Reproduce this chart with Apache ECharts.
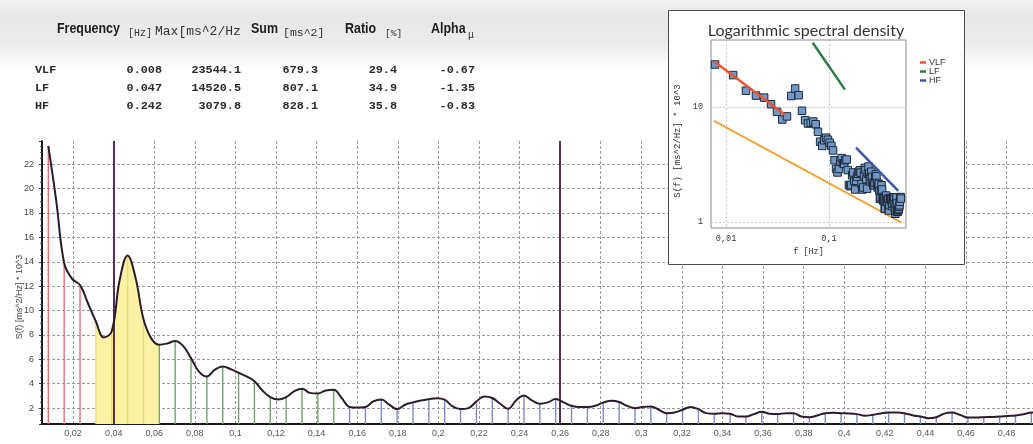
<!DOCTYPE html>
<html>
<head>
<meta charset="utf-8">
<script src="https://cdn.jsdelivr.net/npm/echarts@6/dist/echarts.min.js"></script>
<style>
  html, body { margin: 0; padding: 0; }
  body { width: 1033px; height: 444px; overflow: hidden;
         background: linear-gradient(to bottom, #f3f3f3 0px, #e7e7e7 14px, #ebebeb 42px, #ffffff 70px); }
  #chart { width: 1033px; height: 444px; }
</style>
</head>
<body>
<div id="chart"></div>
<script>
// ---------- DATA ----------
// spectral density S(f) [ms^2/Hz * 10^3], sampled every 1/256 Hz starting at f = 2/256
const psdStep = 1 / 256;
const psdStartIndex = 2;
const psdValues = [
  23.5, 19.0, 13.9, 12.6, 12.1, 10.6, 9.1, 7.8, 8.3, 12.5,
  14.52, 12.7, 9.3, 7.7, 7.2, 7.3, 7.5, 7.1, 6.1, 5.0,
  4.6, 5.15, 5.42, 5.2, 4.9, 4.6, 4.2, 3.45, 2.9, 2.7,
  2.9, 3.37, 3.6, 3.25, 3.2, 3.45, 3.5, 2.83, 2.1, 2.05,
  2.1, 2.55, 2.7, 2.28, 1.92, 2.28, 2.47, 2.63, 2.74, 2.82,
  2.69, 2.14, 1.92, 2.0, 2.55, 2.96, 2.83, 2.36, 1.95, 2.63,
  3.04, 2.63, 2.36, 2.47, 2.74, 2.47, 2.19, 2.09, 2.09, 2.19,
  2.45, 2.6, 2.5, 2.19, 2.0, 2.09, 2.14, 1.87, 1.59, 1.64,
  1.87, 2.09, 1.92, 1.59, 1.54, 1.59, 1.54, 1.31, 1.31, 1.51,
  1.7, 1.54, 1.51, 1.59, 1.59, 1.31, 1.26, 1.4, 1.59, 1.62,
  1.59, 1.57, 1.51, 1.38, 1.45, 1.57, 1.64, 1.64, 1.59, 1.42,
  1.31, 1.18, 1.26, 1.55, 1.64, 1.45, 1.23, 1.23, 1.26, 1.28,
  1.31, 1.36, 1.40, 1.5, 1.64, 1.65, 1.6
];
// spectral lines every 1/128 Hz, grouped by band (index k, f = k/128)
const lineStep = 1 / 128;
const vlfLines = [1, 3];
const peakLines = [4, 7];
const lfLines = [8, 19];
const hfLines = [20, 64];
const markerLines = [5, 33];          // band cursors (k)
const peakArea = [4, 8];              // highlighted peak area (k)

// table
const tableRows = ['VLF', 'LF', 'HF'];
const colFrequency = ['0.008', '0.047', '0.242'];
const colMax = ['23544.1', '14520.5', '3079.8'];
const colSum = ['679.3', '807.1', '828.1'];
const colRatio = ['29.4', '34.9', '35.8'];
const colAlpha = ['-0.67', '-1.35', '-0.83'];

// inset fit lines (log-log)
const fitVLF = [[0.00769, 25.0], [0.0374, 8.57]];
const fitLF = [[0.0695, 36.4], [0.143, 14.2]];
const fitHF = [[0.183, 4.44], [0.471, 1.87]];
const fitRef = [[0.00764, 7.6], [0.508, 0.99]];

// ---------- BUILD ----------
const curve = psdValues.map((v, i) => [(i + psdStartIndex) * psdStep, v]);
function valueAtLine(k) {
  const i = Math.round(k * lineStep / psdStep) - psdStartIndex;
  return psdValues[i];
}
const bandDefs = [
  { r: vlfLines, color: '#e27272' },
  { r: peakLines, color: '#e9dc78' },
  { r: lfLines, color: '#6ea66b' },
  { r: hfLines, color: '#7e89cc' }
];
const drops = [];
bandDefs.forEach(b => {
  for (let k = b.r[0]; k <= b.r[1]; k++) {
    const v = valueAtLine(k);
    if (v === undefined) continue;
    drops.push({ value: [k * lineStep, v], itemStyle: { color: b.color } });
  }
});
const areaData = curve.filter(p => p[0] >= peakArea[0] * lineStep - 1e-9 && p[0] <= peakArea[1] * lineStep + 1e-9);

const comma = v => String(v).replace('.', ',');
const mono = '"Liberation Mono", "Courier New", monospace';
const sans = '"Liberation Sans", Arial, sans-serif';

function txt(text, x, y, o) {
  o = o || {};
  return {
    type: 'text', x: x, y: y, z: 100,
    scaleX: o.scaleX || 1,
    rotation: o.rotation || 0,
    style: {
      text: text, fill: o.color || '#222',
      fontSize: o.size || 12, fontFamily: o.family || mono,
      fontWeight: o.weight || 'normal',
      align: o.align || 'left', verticalAlign: o.valign || 'middle'
    }
  };
}

const graphics = [
  { type: 'rect', z: 50, shape: { x: 668.5, y: 10.5, width: 296, height: 254 },
    style: { fill: '#ffffff', stroke: '#4a4a4a', lineWidth: 1 } },
  txt('Logarithmic spectral density', 806, 31, { family: 'Lato, "Open Sans", sans-serif', size: 16, color: '#333', align: 'center' }),
  // header
  txt('Frequency', 57, 29, { family: sans, size: 15, weight: 'bold', scaleX: 0.83, color: '#1e1e1e' }),
  txt('[Hz]', 128, 33, { size: 10, color: '#333' }),
  txt('Max[ms^2/Hz', 155, 32, { size: 13, color: '#333' }),
  txt('Sum', 251, 29, { family: sans, size: 15, weight: 'bold', scaleX: 0.83, color: '#1e1e1e' }),
  txt('[ms^2]', 283, 33, { size: 11.5, color: '#333' }),
  txt('Ratio', 345, 29, { family: sans, size: 15, weight: 'bold', scaleX: 0.83, color: '#1e1e1e' }),
  txt('[%]', 385, 33, { size: 9.5, color: '#333' }),
  txt('Alpha', 431, 29, { family: sans, size: 15, weight: 'bold', scaleX: 0.83, color: '#1e1e1e' }),
  txt('μ', 468, 35, { size: 10, color: '#333' }),
  // main y-axis title
  txt('S(f) [ms^2/Hz] * 10^3', 20, 297, { family: sans, size: 9, color: '#444', align: 'center', rotation: Math.PI / 2 }),
  // inset y-axis title
  txt('S(f) [ms^2/Hz] * 10^3', 678, 141, { family: mono, size: 9, color: '#333', align: 'center', rotation: Math.PI / 2 })
];
const rowY = [70, 88, 106];
const cols = [
  { vals: colFrequency, x: 162 },
  { vals: colMax, x: 241 },
  { vals: colSum, x: 318 },
  { vals: colRatio, x: 397 },
  { vals: colAlpha, x: 475 }
];
tableRows.forEach((name, r) => {
  graphics.push(txt(name, 35, rowY[r], { size: 11.8, weight: 'bold', color: '#2a2a2a' }));
  cols.forEach(c => graphics.push(txt(c.vals[r], c.x, rowY[r], { size: 11.8, weight: 'bold', color: '#2a2a2a', align: 'right' })));
});

const dashed = { color: '#9a9a9a', width: 1, type: [3, 2] };

const option = {
  animation: false,
  backgroundColor: 'transparent',
  grid: [
    { left: 42, right: 0, top: 141, bottom: 20 },
    { left: 711, top: 40, width: 195, height: 188, show: true, borderColor: '#8a8a8a', borderWidth: 1, backgroundColor: '#fff', z: 60 }
  ],
  legend: {
    data: ['VLF', 'LF', 'HF'], orient: 'vertical', left: 915, top: 53, z: 70,
    icon: 'rect', itemWidth: 6, itemHeight: 2.5, itemGap: 0,
    textStyle: { fontSize: 9, lineHeight: 8, color: '#333', fontFamily: sans, padding: [0, 0, 0, -2] }
  },
  xAxis: [
    { type: 'value', gridIndex: 0, min: 0.0047, max: 0.493, splitNumber: 25,
      axisLine: { lineStyle: { color: '#1a1a1a', width: 2 } },
      axisTick: { show: false },
      axisLabel: { color: '#555', fontSize: 9, margin: 5, fontFamily: sans, formatter: comma, showMinLabel: false, showMaxLabel: false },
      splitLine: { show: true, lineStyle: dashed, showMinLine: false, showMaxLine: false } },
    { type: 'log', gridIndex: 1, min: 0.00714, max: 0.56, z: 61,
      axisLine: { show: false }, axisTick: { show: false },
      axisLabel: { color: '#333', fontSize: 8.5, fontFamily: mono, margin: 6, formatter: comma, showMinLabel: false, showMaxLabel: false },
      splitLine: { show: true, lineStyle: { color: '#c8c8c8', type: [2, 2] }, showMinLine: false, showMaxLine: false },
      name: 'f [Hz]', nameLocation: 'middle', nameGap: 19,
      nameTextStyle: { fontSize: 8.5, fontFamily: mono, color: '#333' } }
  ],
  yAxis: [
    { type: 'value', gridIndex: 0, min: 0.7, max: 23.9, splitNumber: 12,
      axisLine: { show: true, lineStyle: { color: '#1a1a1a', width: 2 } },
      axisTick: { show: true, length: 3, lineStyle: { color: '#333' } },
      minorTick: { show: true, splitNumber: 4, length: 2, lineStyle: { color: '#555' } },
      axisLabel: { color: '#444', fontSize: 9, margin: 8, fontFamily: sans, showMinLabel: false, showMaxLabel: false },
      splitLine: { show: true, lineStyle: dashed, showMinLine: false, showMaxLine: false } },
    { type: 'log', gridIndex: 1, min: 0.887, max: 38.4, z: 61,
      axisLine: { show: false }, axisTick: { show: false },
      axisLabel: { color: '#333', fontSize: 8.5, fontFamily: mono, margin: 8, showMinLabel: false, showMaxLabel: false },
      splitLine: { show: true, lineStyle: { color: '#c8c8c8', type: [2, 2] }, showMinLine: false, showMaxLine: false } }
  ],
  graphic: graphics,
  series: [
    { name: 'peak area', type: 'line', xAxisIndex: 0, yAxisIndex: 0, data: areaData, smooth: 0.4,
      showSymbol: false, symbol: 'none', lineStyle: { width: 0 }, areaStyle: { color: '#fbf2a4', opacity: 1 }, z: 2, silent: true },
    { name: 'lines', type: 'bar', xAxisIndex: 0, yAxisIndex: 0, data: drops, barWidth: 1.4, z: 3, silent: true },
    { name: 'S(f)', type: 'line', xAxisIndex: 0, yAxisIndex: 0, data: curve, smooth: 0.4,
      showSymbol: false, symbol: 'none', lineStyle: { color: '#2b1c2c', width: 2 }, z: 5, silent: true,
      markLine: { symbol: 'none', silent: true, label: { show: false },
        lineStyle: { color: '#5a2c5a', width: 2, type: 'solid' },
        data: markerLines.map(k => ({ xAxis: k * lineStep })) } },
    { name: 'ref', type: 'line', xAxisIndex: 1, yAxisIndex: 1, data: fitRef, symbol: 'none',
      lineStyle: { color: '#f2a33a', width: 2 }, z: 61, silent: true },
    { name: 'PSD', type: 'scatter', xAxisIndex: 1, yAxisIndex: 1, data: curve, symbol: 'rect', symbolSize: 7.5,
      itemStyle: { color: '#7098c9', borderColor: '#1d2835', borderWidth: 1, opacity: 1 }, z: 62, silent: true },
    { name: 'VLF', type: 'line', xAxisIndex: 1, yAxisIndex: 1, data: fitVLF, symbol: 'none',
      itemStyle: { color: '#e8552f' }, lineStyle: { color: '#e8552f', width: 2.5 }, z: 63, silent: true },
    { name: 'LF', type: 'line', xAxisIndex: 1, yAxisIndex: 1, data: fitLF, symbol: 'none',
      itemStyle: { color: '#2e7a45' }, lineStyle: { color: '#2e7a45', width: 2.5 }, z: 63, silent: true },
    { name: 'HF', type: 'line', xAxisIndex: 1, yAxisIndex: 1, data: fitHF, symbol: 'none',
      itemStyle: { color: '#3d55a5' }, lineStyle: { color: '#3d55a5', width: 2.5 }, z: 63, silent: true }
  ]
};
const chart = echarts.init(document.getElementById('chart'), null, { renderer: 'canvas' });
chart.setOption(option);
</script>
</body>
</html>
